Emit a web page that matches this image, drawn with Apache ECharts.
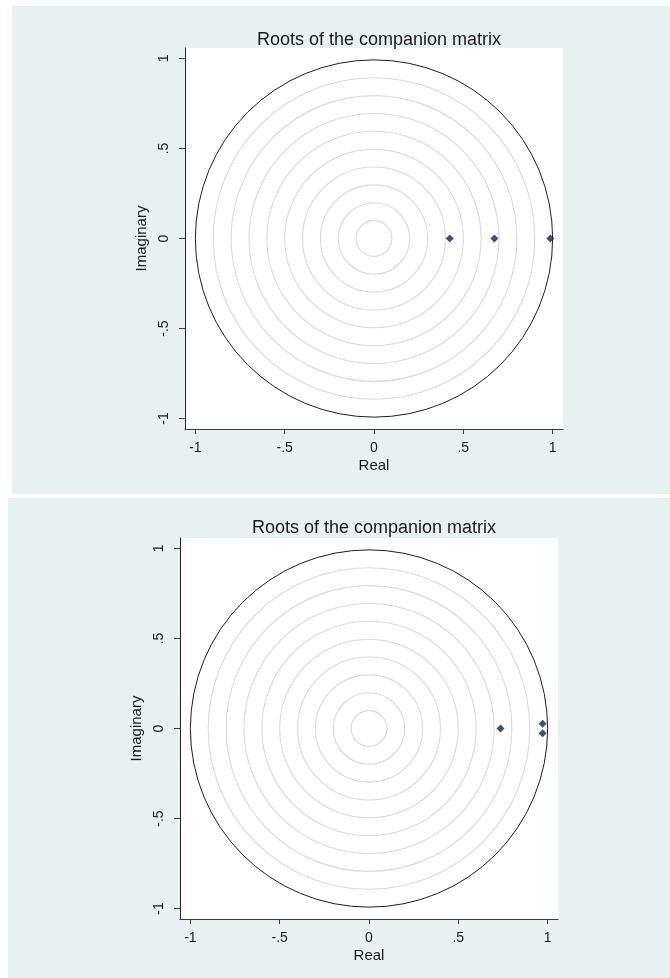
<!DOCTYPE html>
<html>
<head>
<meta charset="utf-8">
<title>Roots of the companion matrix</title>
<script src="https://cdn.jsdelivr.net/npm/echarts@6/dist/echarts.min.js"></script>
<style>
  html, body { margin: 0; padding: 0; background: #ffffff; }
  #chart { width: 670px; height: 978px; }
</style>
</head>
<body>
<div id="chart"></div>
<script>
// Eigenvalues of the companion matrix, two models
const rootsModelA = [[0.424, 0], [0.674, 0], [0.987, 0]];
const rootsModelB = [[0.736, 0], [0.972, 0.026], [0.972, -0.026]];

// Reference circles (radii in the complex plane)
const gridRings = [0.1, 0.2, 0.3, 0.4, 0.5, 0.6, 0.7, 0.8, 0.9];
const unitRing = [1];

// Tick positions and labels shared by both axes
const tickValues = [-1, -0.5, 0, 0.5, 1];
const tickLabels = ['-1', '-.5', '0', '.5', '1'];

const FONT = '"Liberation Sans", Arial, sans-serif';
const TEXT = '#1a1a1a';
const PANEL_BG = '#e9f0f2';
const AX_MIN = -1.058, AX_MAX = 1.058;

function fmtTick(v) {
  const i = tickValues.findIndex(t => Math.abs(t - v) < 1e-9);
  return i >= 0 ? tickLabels[i] : '';
}

function ringSeries(radii, gridIndex, stroke, width) {
  return {
    type: 'custom',
    xAxisIndex: gridIndex,
    yAxisIndex: gridIndex,
    silent: true,
    clip: false,
    data: radii.map(r => [r, 0]),
    renderItem: function (params, api) {
      const c = api.coord([0, 0]);
      const r = api.size([api.value(0), 0])[0];
      return {
        type: 'circle',
        shape: { cx: c[0], cy: c[1], r: r },
        style: { fill: 'none', stroke: stroke, lineWidth: width }
      };
    },
    z: 2
  };
}

function rootSeries(data, gridIndex) {
  return {
    type: 'scatter',
    xAxisIndex: gridIndex,
    yAxisIndex: gridIndex,
    data: data,
    symbol: 'diamond',
    symbolSize: 8,
    itemStyle: { color: '#13244c' },
    z: 5
  };
}

function xAxisDef(gridIndex) {
  return {
    gridIndex: gridIndex,
    type: 'value',
    min: AX_MIN, max: AX_MAX,
    name: 'Real',
    nameLocation: 'middle',
    nameGap: 29,
    nameTextStyle: { fontFamily: FONT, fontSize: 15, color: TEXT },
    axisLine: { show: true, onZero: false, lineStyle: { color: '#3a3a3a', width: 1.2 } },
    axisTick: { show: true, length: 5, customValues: tickValues, lineStyle: { color: '#3a3a3a' } },
    axisLabel: { customValues: tickValues, formatter: fmtTick, margin: 12,
                 fontFamily: FONT, fontSize: 14, color: TEXT },
    splitLine: { show: false }
  };
}

function yAxisDef(gridIndex) {
  return {
    gridIndex: gridIndex,
    type: 'value',
    min: AX_MIN, max: AX_MAX,
    name: 'Imaginary',
    nameLocation: 'middle',
    nameGap: 29,
    nameTextStyle: { fontFamily: FONT, fontSize: 15, color: TEXT },
    axisLine: { show: true, onZero: false, lineStyle: { color: '#222222', width: 1 } },
    axisTick: { show: true, length: 6, customValues: tickValues, lineStyle: { color: '#3a3a3a' } },
    axisLabel: { customValues: tickValues, formatter: fmtTick, rotate: 90, margin: 14,
                 fontFamily: FONT, fontSize: 14, color: TEXT },
    splitLine: { show: false }
  };
}

const chart = echarts.init(document.getElementById('chart'), null, { renderer: 'canvas' });

chart.setOption({
  backgroundColor: '#ffffff',
  animation: false,
  graphic: [
    { type: 'rect', shape: { x: 12, y: 6, width: 658, height: 488 }, style: { fill: PANEL_BG }, z: -10 },
    { type: 'rect', shape: { x: 8, y: 498, width: 662, height: 480 }, style: { fill: PANEL_BG }, z: -10 }
  ],
  title: [
    { text: 'Roots of the companion matrix', left: 374, top: 26, textAlign: 'center',
      textStyle: { fontFamily: FONT, fontSize: 18, fontWeight: 'normal', color: TEXT } },
    { text: 'Roots of the companion matrix', left: 369, top: 514, textAlign: 'center',
      textStyle: { fontFamily: FONT, fontSize: 18, fontWeight: 'normal', color: TEXT } }
  ],
  grid: [
    { left: 185, top: 48, width: 378, height: 381, show: true, backgroundColor: '#ffffff', borderWidth: 0 },
    { left: 180, top: 538, width: 378, height: 381, show: true, backgroundColor: '#ffffff', borderWidth: 0 }
  ],
  xAxis: [xAxisDef(0), xAxisDef(1)],
  yAxis: [yAxisDef(0), yAxisDef(1)],
  series: [
    ringSeries(gridRings, 0, '#dadada', 1.1),
    ringSeries(unitRing, 0, '#1e1e1e', 1),
    rootSeries(rootsModelA, 0),
    ringSeries(gridRings, 1, '#dadada', 1.1),
    ringSeries(unitRing, 1, '#1e1e1e', 1),
    rootSeries(rootsModelB, 1)
  ]
});
</script>
</body>
</html>
